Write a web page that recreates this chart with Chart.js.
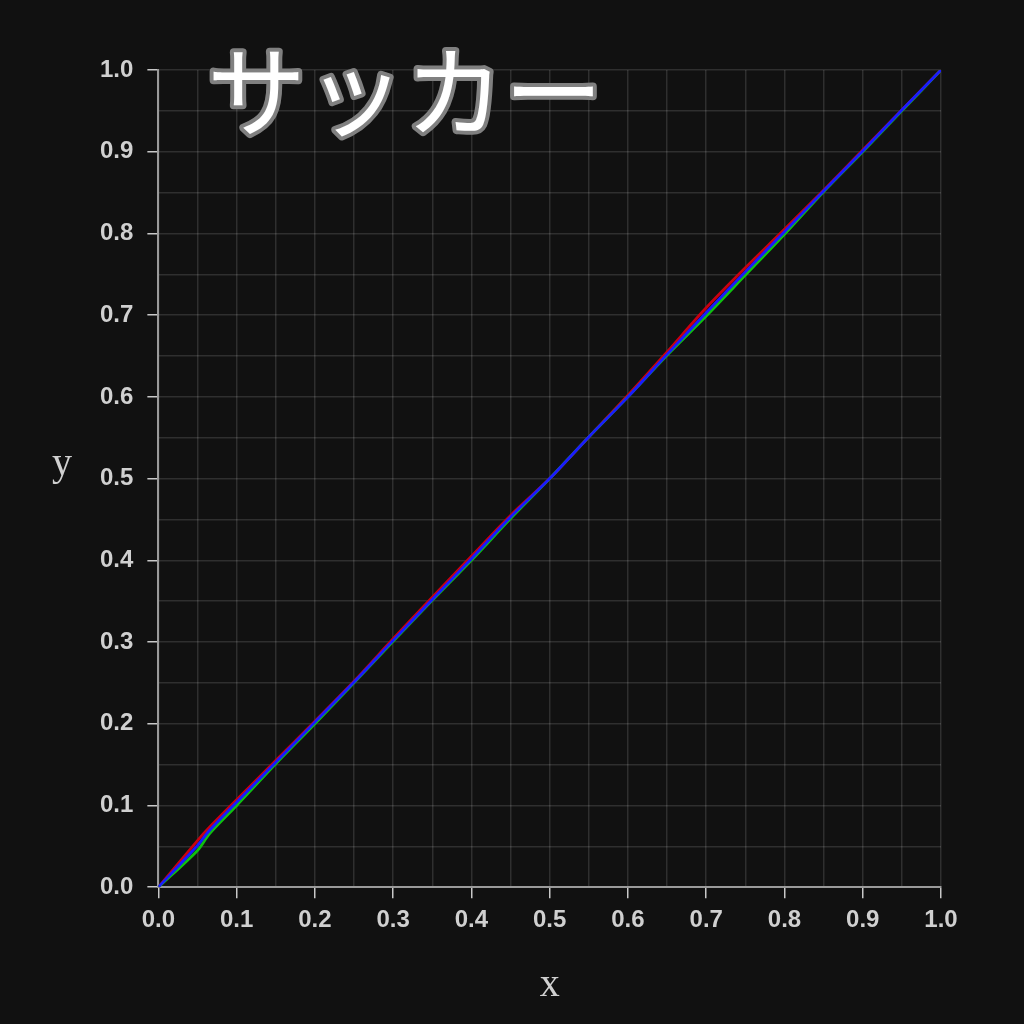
<!DOCTYPE html>
<html>
<head>
<meta charset="utf-8">
<script src="https://cdn.jsdelivr.net/npm/chart.js@4.4.1/dist/chart.umd.min.js"></script>
<style>
  html, body { margin: 0; padding: 0; background: #111111; }
  #wrap { width: 1024px; height: 1024px; }
</style>
</head>
<body>
<div id="wrap"><canvas id="soccerCanvas" width="1024" height="1024"></canvas></div>
<script>
const chartTitle = 'サッカー';
const xLabel = 'x';
const yLabel = 'y';

const xs = [0, 0.05, 0.065, 0.1, 0.15, 0.2, 0.25, 0.3, 0.35, 0.4, 0.45, 0.5, 0.55, 0.6, 0.65, 0.7, 0.75, 0.8, 0.85, 0.9, 0.95, 1.0];
const redY = [0, 0.057, 0.073, 0.107, 0.155, 0.203, 0.252, 0.304, 0.355, 0.405, 0.455, 0.5, 0.551, 0.602, 0.655, 0.709, 0.758, 0.805, 0.853, 0.902, 0.951, 1.0];
const greenY = [0, 0.045, 0.065, 0.1, 0.151, 0.2, 0.25, 0.301, 0.351, 0.4, 0.451, 0.5, 0.551, 0.6, 0.651, 0.699, 0.749, 0.799, 0.851, 0.9, 0.95, 1.0];
const blueY = [0, 0.051, 0.069, 0.104, 0.153, 0.202, 0.251, 0.302, 0.352, 0.402, 0.453, 0.5, 0.551, 0.6, 0.652, 0.703, 0.753, 0.802, 0.852, 0.901, 0.951, 1.0];

function toPoints(ys) {
    return xs.map((x, i) => ({ x: x, y: ys[i] }));
}

// title drawn inside the plot area with an outline, y title kept upright
const extraText = {
    id: 'extraText',
    afterDraw(chart) {
        const ctx = chart.ctx;
        ctx.save();
        ctx.font = '400 99px "Noto Sans CJK JP"';
        ctx.textBaseline = 'alphabetic';
        ctx.textAlign = 'left';
        ctx.lineJoin = 'round';
        ctx.lineCap = 'round';
        ctx.lineWidth = 8;
        ctx.strokeStyle = '#808080';
        ctx.strokeText(chartTitle, 207, 129);
        ctx.fillStyle = '#ffffff';
        ctx.fillText(chartTitle, 207, 129);

        ctx.font = '40px "Liberation Serif"';
        ctx.textAlign = 'center';
        ctx.textBaseline = 'middle';
        ctx.fillStyle = '#d0d0d0';
        ctx.fillText(yLabel, 62, 464);
        ctx.restore();
    }
};

const bgPlugin = {
    id: 'bg',
    beforeDraw(chart) {
        const ctx = chart.ctx;
        ctx.save();
        ctx.fillStyle = '#111111';
        ctx.fillRect(0, 0, chart.width, chart.height);
        ctx.restore();
    }
};

const gridColor = ctx => 'rgba(255,255,255,0.13)';
const tickColor = ctx => (Math.round(ctx.tick.value * 100) % 10 === 0) ? '#c8c8c8' : 'rgba(0,0,0,0)';
const tickLabel = value => (Math.round(value * 100) % 10 === 0) ? value.toFixed(1) : '';
const tickFont = { family: '"Liberation Sans Narrow", "Liberation Sans"', size: 24, weight: 'bold' };

const ctx = document.getElementById('soccerCanvas').getContext('2d');

const soccerChart = new Chart(ctx, {
    type: 'scatter',
    data: {
        datasets: [
            { label: 'blue', data: toPoints(blueY), borderColor: '#1a1aff', showLine: true, pointRadius: 0, borderWidth: 2.8, tension: 0.3 },
            { label: 'green', data: toPoints(greenY), borderColor: '#10c010', showLine: true, pointRadius: 0, borderWidth: 2.8, tension: 0.3 },
            { label: 'red', data: toPoints(redY), borderColor: '#c80010', showLine: true, pointRadius: 0, borderWidth: 2.8, tension: 0.3 }
        ]
    },
    options: {
        responsive: false,
        animation: false,
        devicePixelRatio: 1,
        layout: { padding: { left: 86, right: 83, top: 70, bottom: 15 } },
        plugins: {
            legend: { display: false },
            tooltip: { enabled: false }
        },
        scales: {
            x: {
                type: 'linear',
                min: 0,
                max: 1,
                title: {
                    display: true,
                    text: xLabel,
                    color: '#d0d0d0',
                    font: { family: '"Liberation Serif"', size: 40 },
                    padding: { top: 18, bottom: 0 }
                },
                ticks: {
                    stepSize: 0.05,
                    autoSkip: false,
                    maxRotation: 0,
                    color: '#d0d0d0',
                    font: tickFont,
                    padding: 8,
                    callback: tickLabel
                },
                grid: { color: gridColor, tickColor: tickColor, tickLength: 11, lineWidth: 1.5 },
                border: { color: '#9a9a9a', width: 2 }
            },
            y: {
                type: 'linear',
                min: 0,
                max: 1,
                ticks: {
                    stepSize: 0.05,
                    autoSkip: false,
                    color: '#d0d0d0',
                    font: tickFont,
                    padding: 14,
                    callback: tickLabel
                },
                grid: { color: gridColor, tickColor: tickColor, tickLength: 11, lineWidth: 1.5 },
                border: { color: '#9a9a9a', width: 2 }
            }
        }
    },
    plugins: [bgPlugin, extraText]
});
</script>
</body>
</html>
